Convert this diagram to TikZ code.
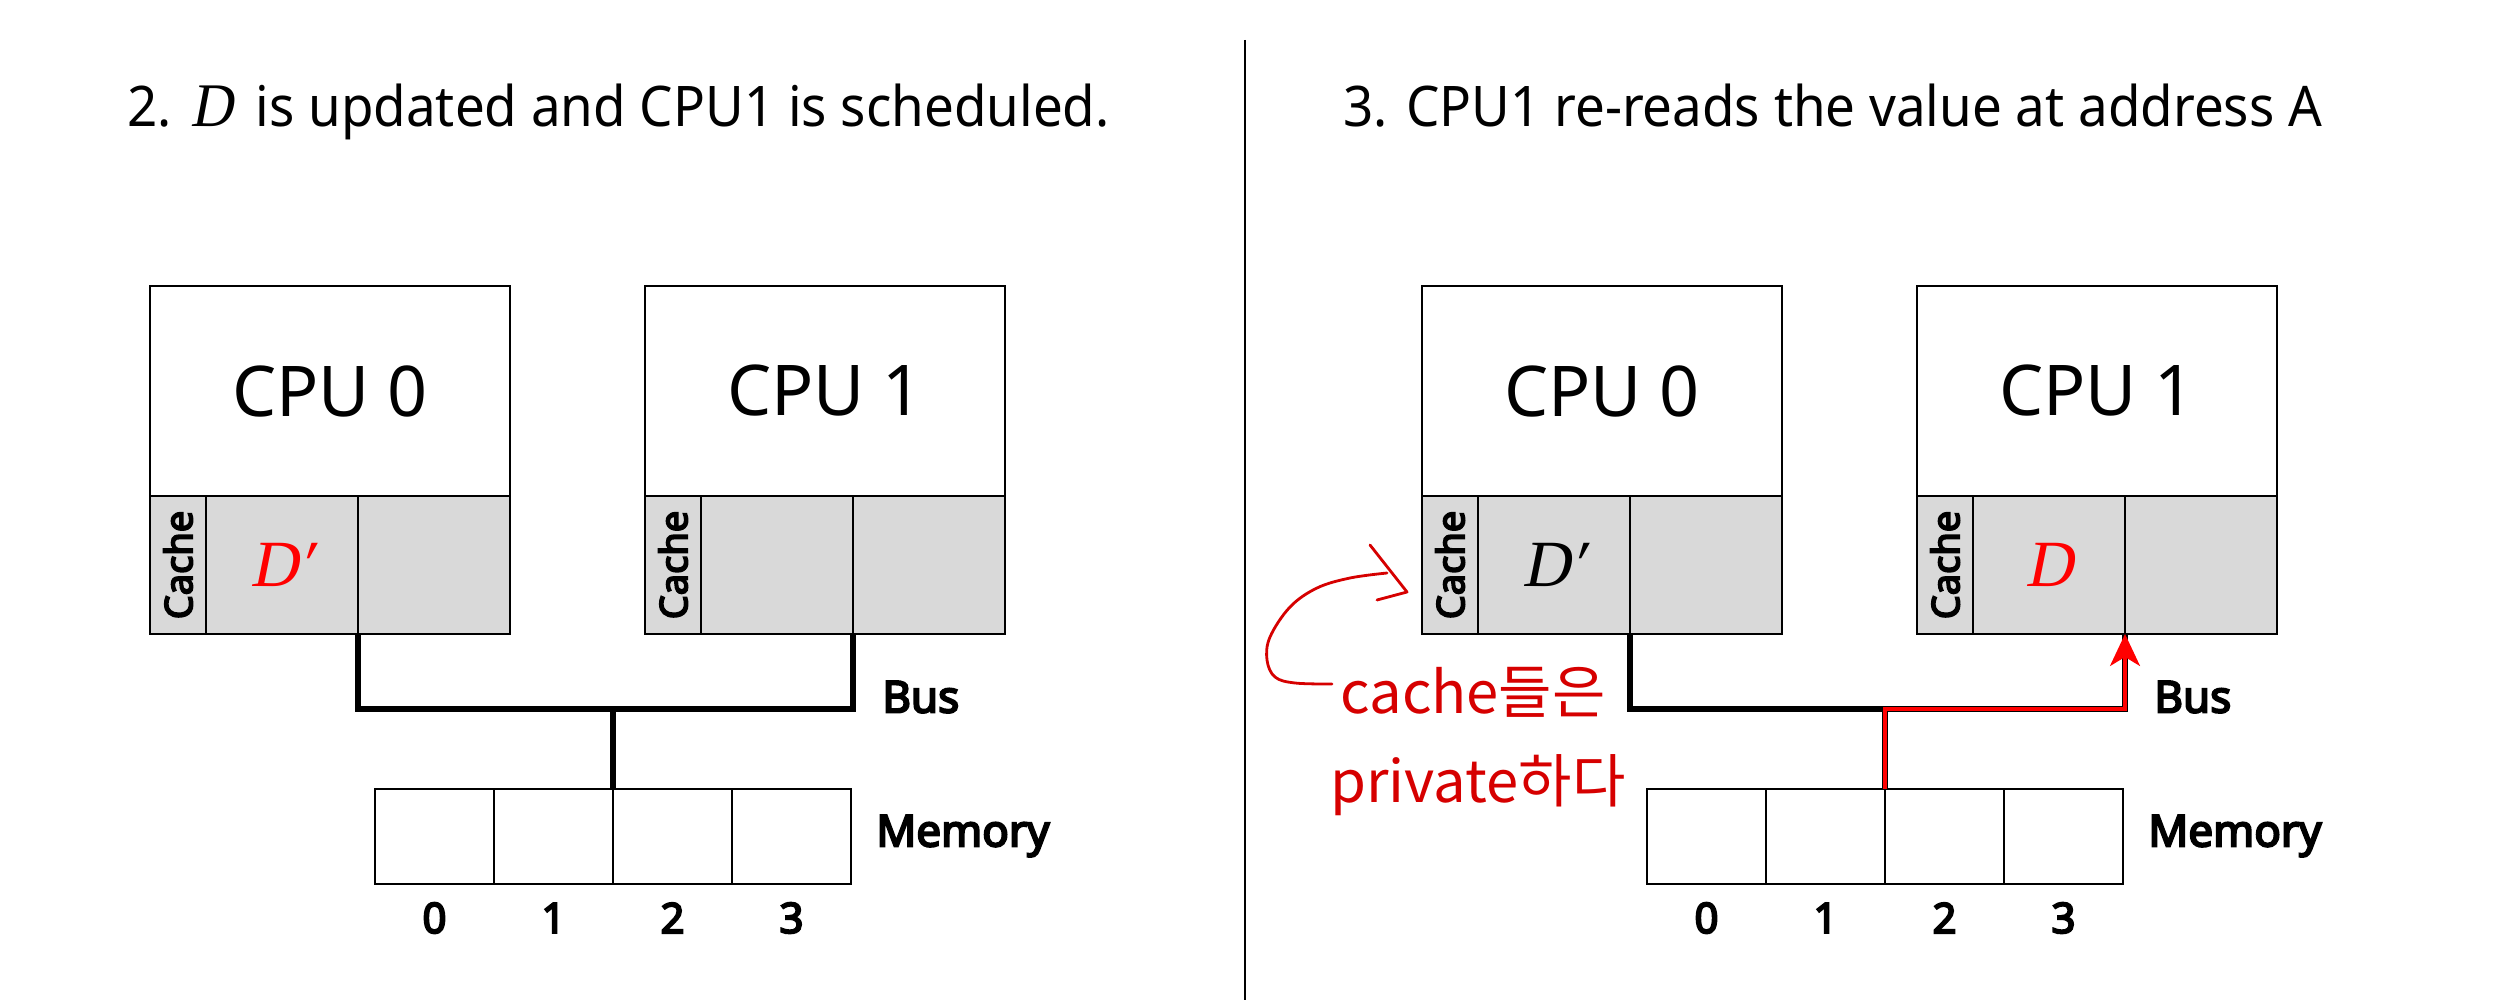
\documentclass[tikz,border=0pt]{standalone}
\usepackage{fontspec}
\setmainfont{Noto Sans}[AutoFakeBold=4.5]
\newfontfamily\kr{Noto Sans CJK KR}
\newfontfamily\serifit{Liberation Serif}[AutoFakeSlant=0.2]
\usetikzlibrary{arrows.meta}
\definecolor{cachegray}{RGB}{217,217,217}
\definecolor{pen}{RGB}{214,0,0}
\tikzset{
  box/.style={draw=black, line width=1pt, inner sep=0pt, outer sep=0pt, anchor=north west},
  cpu/.style={box, fill=white, minimum width=180pt, minimum height=105pt, font=\fontsize{35}{40}\selectfont},
  cachecol/.style={box, fill=cachegray, minimum width=28pt, minimum height=69pt},
  cell/.style={box, fill=cachegray, minimum width=76pt, minimum height=69pt},
  memcell/.style={box, fill=white, minimum width=59.5pt, minimum height=47.5pt},
  cachetxt/.style={rotate=90, font=\bfseries\fontsize{19}{22}\selectfont, inner sep=0pt},
  digit/.style={font=\bfseries\fontsize{21}{26}\selectfont, inner sep=0pt},
  lbl/.style={font=\bfseries\fontsize{22}{26}\selectfont, inner sep=0pt},
  bus/.style={line width=2.8pt, line join=miter},
  title/.style={font=\fontsize{28}{32}\selectfont, inner sep=0pt, anchor=base west, xscale=0.945},
  mathval/.style={font=\serifit\itshape\fontsize{33}{36}\selectfont, inner sep=0pt},
  hand/.style={font=\kr\fontsize{29}{34}\selectfont, text=pen, inner sep=0pt},
}
\newcommand\mypanel[2]{%
  \node[cpu] (#1p0) at (150+#2,286) {CPU 0};
  \node[cachecol] (#1k0) at (150+#2,496) {};
  \node[cell] (#1c0a) at (206+#2,496) {};
  \node[cell] (#1c0b) at (358+#2,496) {};
  \node[cpu] (#1p1) at (645+#2,286) {CPU 1};
  \node[cachecol] (#1k1) at (645+#2,496) {};
  \node[cell] (#1c1a) at (701+#2,496) {};
  \node[cell] (#1c1b) at (853+#2,496) {};
  \node[cachetxt] at (#1k0.center) {Cache};
  \node[cachetxt] at (#1k1.center) {Cache};
  \node[memcell] (#1m0) at (375+#2,789) {};
  \node[memcell] (#1m1) at (494+#2,789) {};
  \node[memcell] (#1m2) at (613+#2,789) {};
  \node[memcell] (#1m3) at (732+#2,789) {};
  \node[digit] at ([yshift=-17pt]#1m0.south) {0};
  \node[digit] at ([yshift=-17pt]#1m1.south) {1};
  \node[digit] at ([yshift=-17pt]#1m2.south) {2};
  \node[digit] at ([yshift=-17pt]#1m3.south) {3};
  \coordinate (#1bus) at (613+#2,709);
  \draw[bus] (#1c0a.south east) |- (#1bus) -| (#1c1a.south east);
  \draw[bus] (#1bus) -- (#1m1.north east);
  \node[lbl, anchor=west] (#1buslbl) at (882+#2,697) {Bus};
  \node[lbl, anchor=west] (#1memlbl) at (876+#2,836) {Memory};
}
\begin{document}
\begin{tikzpicture}[x=0.5pt,y=-0.5pt]
\useasboundingbox[fill=white] (0,0) rectangle (2493,1000);
\node[title] (t1) at (127,127) {2. {\serifit\itshape\fontsize{31}{32}\selectfont D}\hspace{5pt} is updated and CPU1 is scheduled.};
\node[title] (t2) at (1343,127) {3. CPU1 re-reads the value at address A};
\coordinate (sepTop) at (1245,40);
\coordinate (sepBot) at (1245,1000);
\draw[line width=1pt] (sepTop) -- (sepBot);
\mypanel{L}{0}
\mypanel{R}{1272}
\node[mathval, text=red] at (Lc0a.center) {D′};
\node[mathval] at (Rc0a.center) {D′};
\node[mathval, text=red] at (Rc1a.center) {D};
% red read path
\coordinate (RbusRed) at (Rm1.north east |- Rbus);
\draw[line width=1.6pt, red, line join=miter, xshift=1.2pt, yshift=-1.2pt,
      -{Stealth[length=16pt,width=15pt,inset=4.5pt]}]
  (Rm1.north east) -- (RbusRed) -| (Rc1a.south east);
% handwritten annotation
\node[hand, anchor=west] (h1) at (1340,692) {cache들은};
\node[hand, anchor=west] (h2) at (1330,785) {private하다};
\draw[pen, line width=1.4pt, line cap=round, line join=round]
  plot[smooth, tension=0.6] coordinates {(1332,684) (1295,683) (1275,677) (1267,660) (1270,637) (1290,607) (1317,588) (1350,578) (1387,573)};
\coordinate (hA) at (1370,545);
\coordinate (hB) at (1407,592);
\coordinate (hC) at (1377,600);
\draw[pen, line width=1.4pt, line cap=round, line join=round] (hA) -- (hB) -- (hC);
\end{tikzpicture}
\end{document}
